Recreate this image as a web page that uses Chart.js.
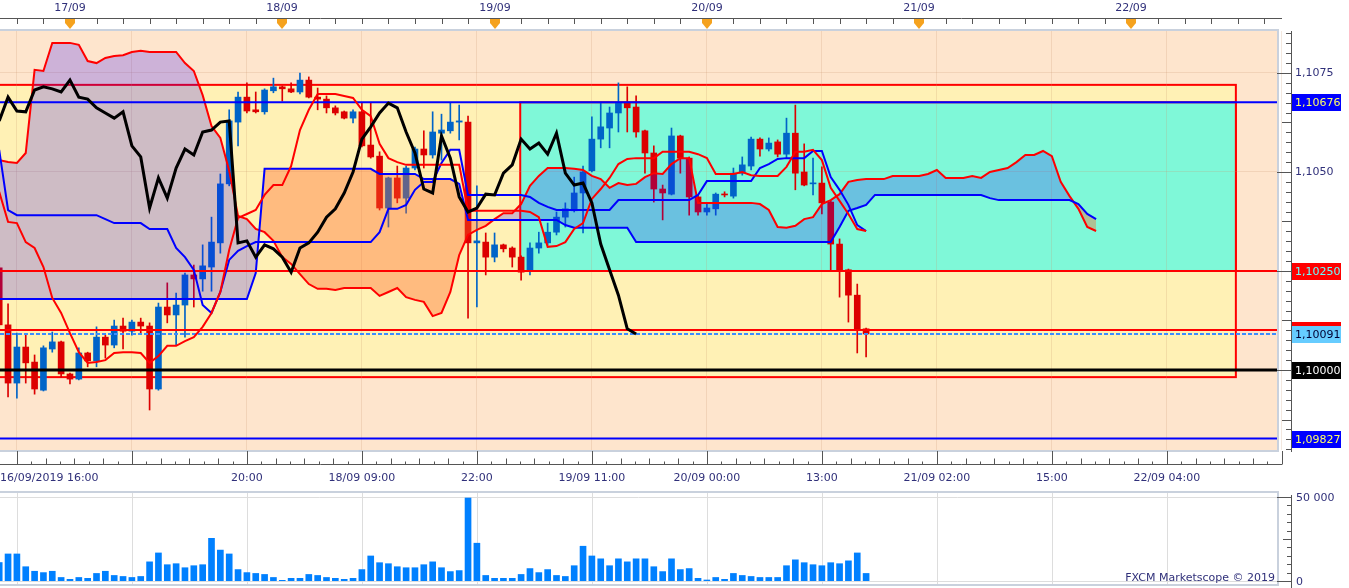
<!DOCTYPE html>
<html>
<head>
<meta charset="utf-8">
<script src="https://cdn.jsdelivr.net/npm/chart.js@4.4.0/dist/chart.umd.min.js"></script>
<style>
  html, body { margin: 0; padding: 0; background: #fff; }
  #wrap { position: relative; width: 1349px; height: 588px; overflow: hidden; }
  canvas { position: absolute; left: 0; }
  #main { top: 0; }
  #vol { top: 490px; }
</style>
</head>
<body>
<div id="wrap">
  <canvas id="main" width="1349" height="490"></canvas>
  <canvas id="vol" width="1349" height="98"></canvas>
</div>
<script>
// EUR/USD H1, bar 0 = 16/09/2019 16:00
const opens = [1.10258,1.10114,1.09967,1.10058,1.10020,1.09949,1.10053,1.10071,1.09990,1.09977,
  1.10043,1.10023,1.10083,1.10063,1.10111,1.10098,1.10121,1.10111,1.09952,1.10159,
  1.10139,1.10164,1.10240,1.10230,1.10260,1.10321,1.10470,1.10626,1.10689,1.10657,
  1.10652,1.10705,1.10715,1.10710,1.10702,1.10732,1.10689,1.10684,1.10662,1.10652,
  1.10636,1.10652,1.10568,1.10540,1.10409,1.10485,1.10434,1.10510,1.10558,1.10543,
  1.10598,1.10604,1.10626,1.10626,1.10321,1.10323,1.10285,1.10316,1.10308,1.10285,
  1.10253,1.10308,1.10321,1.10348,1.10386,1.10402,1.10447,1.10503,1.10583,1.10611,
  1.10649,1.10674,1.10664,1.10604,1.10548,1.10457,1.10444,1.10591,1.10535,1.10437,
  1.10399,1.10407,1.10444,1.10439,1.10497,1.10515,1.10583,1.10558,1.10576,1.10545,
  1.10598,1.10500,1.10470,1.10472,1.10424,1.10318,1.10253,1.10189,1.10104]
const highs = [1.10268,1.10167,1.10093,1.10088,1.10038,1.10061,1.10096,1.10073,1.09992,1.10056,
  1.10045,1.10109,1.10088,1.10126,1.10131,1.10126,1.10131,1.10119,1.10169,1.10220,
  1.10194,1.10245,1.10265,1.10316,1.10386,1.10495,1.10657,1.10702,1.10725,1.10702,
  1.10710,1.10737,1.10717,1.10725,1.10750,1.10740,1.10712,1.10692,1.10667,1.10654,
  1.10657,1.10674,1.10674,1.10551,1.10487,1.10515,1.10515,1.10563,1.10604,1.10652,
  1.10646,1.10674,1.10669,1.10641,1.10465,1.10346,1.10346,1.10318,1.10311,1.10288,
  1.10321,1.10348,1.10371,1.10399,1.10422,1.10487,1.10515,1.10639,1.10674,1.10664,
  1.10725,1.10715,1.10692,1.10606,1.10566,1.10467,1.10611,1.10593,1.10538,1.10442,
  1.10422,1.10447,1.10450,1.10510,1.10538,1.10588,1.10586,1.10586,1.10581,1.10636,
  1.10669,1.10571,1.10535,1.10513,1.10427,1.10331,1.10255,1.10217,1.10106]
const lows = [1.10101,1.09932,1.09929,1.09967,1.09939,1.09947,1.10045,1.09982,1.09965,1.09975,
  1.10008,1.10008,1.10030,1.10056,1.10053,1.10088,1.10091,1.09899,1.09949,1.10119,
  1.10063,1.10083,1.10159,1.10199,1.10199,1.10295,1.10465,1.10566,1.10649,1.10649,
  1.10646,1.10700,1.10679,1.10700,1.10697,1.10687,1.10657,1.10649,1.10644,1.10634,
  1.10624,1.10563,1.10535,1.10404,1.10361,1.10422,1.10396,1.10505,1.10510,1.10535,
  1.10530,1.10598,1.10581,1.10131,1.10159,1.10240,1.10273,1.10298,1.10260,1.10227,
  1.10240,1.10295,1.10316,1.10341,1.10361,1.10399,1.10346,1.10500,1.10561,1.10561,
  1.10601,1.10601,1.10588,1.10497,1.10424,1.10379,1.10442,1.10497,1.10391,1.10391,
  1.10391,1.10391,1.10437,1.10434,1.10492,1.10505,1.10540,1.10553,1.10538,1.10535,
  1.10455,1.10465,1.10442,1.10394,1.10253,1.10184,1.10121,1.10043,1.10033]
const closes = [1.10114,1.09967,1.10058,1.10018,1.09952,1.10056,1.10071,1.09990,1.09977,1.10043,
  1.10023,1.10083,1.10063,1.10111,1.10098,1.10121,1.10111,1.09952,1.10159,1.10139,
  1.10164,1.10240,1.10230,1.10263,1.10323,1.10470,1.10629,1.10689,1.10654,1.10652,
  1.10707,1.10715,1.10710,1.10702,1.10732,1.10689,1.10684,1.10662,1.10649,1.10636,
  1.10652,1.10566,1.10538,1.10409,1.10485,1.10434,1.10510,1.10558,1.10543,1.10601,
  1.10606,1.10626,1.10629,1.10321,1.10326,1.10285,1.10316,1.10306,1.10285,1.10247,
  1.10308,1.10321,1.10348,1.10386,1.10407,1.10447,1.10500,1.10583,1.10614,1.10649,
  1.10674,1.10662,1.10601,1.10548,1.10457,1.10447,1.10591,1.10535,1.10437,1.10399,
  1.10409,1.10444,1.10442,1.10497,1.10518,1.10583,1.10558,1.10573,1.10545,1.10598,
  1.10497,1.10467,1.10472,1.10422,1.10318,1.10253,1.10189,1.10104,1.10091]
const volumes = [11000,16100,16100,8500,5800,5000,5800,2100,1000,2100,
  1600,4500,5800,3300,2700,2100,2700,11400,16700,9700,
  10300,7900,9100,9700,25400,18400,16100,6800,5000,4500,
  3900,2100,400,1600,1600,3900,3300,2100,1600,1000,
  1600,6800,14900,10900,10300,8500,7900,7900,9700,11400,
  7900,5600,6200,49400,22500,3300,1600,1600,1600,3900,
  7400,5000,6800,3300,2700,9100,20700,14900,13200,9100,
  13200,11400,13200,13200,8500,5600,13200,6800,7400,1600,
  600,2100,1000,4500,3300,2700,2100,2100,2100,9100,
  12600,10900,9700,9100,10900,10300,12000,16700,4500]

const tenkan = [1.10450,1.10374,1.10371,1.10323,1.10308,1.10260,1.10182,1.10144,1.10093,1.10045,
  1.10018,1.10020,1.10025,1.10043,1.10045,1.10045,1.10043,1.10018,1.10035,1.10061,
  1.10061,1.10073,1.10083,1.10109,1.10144,1.10197,1.10303,1.10384,1.10394,1.10404,
  1.10442,1.10467,1.10467,1.10515,1.10606,1.10657,1.10697,1.10697,1.10697,1.10692,
  1.10687,1.10657,1.10641,1.10571,1.10535,1.10525,1.10518,1.10518,1.10518,1.10518,
  1.10518,1.10518,1.10518,1.10402,1.10402,1.10402,1.10402,1.10402,1.10402,1.10402,
  1.10399,1.10386,1.10311,1.10313,1.10323,1.10356,1.10371,1.10432,1.10457,1.10485,
  1.10520,1.10533,1.10535,1.10535,1.10535,1.10551,1.10551,1.10551,1.10551,1.10545,
  1.10535,1.10495,1.10495,1.10495,1.10500,1.10492,1.10490,1.10490,1.10490,1.10513,
  1.10551,1.10551,1.10556,1.10530,1.10460,1.10427,1.10394,1.10356,1.10351]
const kijun = [1.10556,1.10404,1.10391,1.10391,1.10391,1.10391,1.10391,1.10391,1.10391,1.10391,
  1.10391,1.10391,1.10381,1.10371,1.10371,1.10371,1.10371,1.10356,1.10356,1.10356,
  1.10308,1.10285,1.10253,1.10164,1.10144,1.10197,1.10278,1.10301,1.10313,1.10323,
  1.10323,1.10323,1.10323,1.10323,1.10323,1.10323,1.10323,1.10323,1.10323,1.10323,
  1.10323,1.10323,1.10323,1.10348,1.10407,1.10407,1.10417,1.10455,1.10475,1.10475,
  1.10523,1.10556,1.10556,1.10442,1.10442,1.10442,1.10442,1.10442,1.10442,1.10442,
  1.10437,1.10422,1.10412,1.10404,1.10404,1.10404,1.10404,1.10404,1.10404,1.10404,
  1.10429,1.10429,1.10429,1.10429,1.10429,1.10429,1.10429,1.10429,1.10429,1.10442,
  1.10477,1.10477,1.10477,1.10477,1.10477,1.10477,1.10510,1.10520,1.10533,1.10535,
  1.10535,1.10535,1.10553,1.10553,1.10487,1.10455,1.10417,1.10366,1.10351]
const senkouA = [1.10530,1.10525,1.10523,1.10548,1.10758,1.10755,1.10826,1.10826,1.10826,1.10821,
  1.10780,1.10775,1.10788,1.10793,1.10795,1.10803,1.10806,1.10803,1.10803,1.10803,
  1.10803,1.10775,1.10755,1.10694,1.10616,1.10586,1.10503,1.10389,1.10381,1.10356,
  1.10348,1.10326,1.10285,1.10268,1.10242,1.10217,1.10205,1.10205,1.10202,1.10207,
  1.10207,1.10207,1.10207,1.10187,1.10197,1.10207,1.10184,1.10177,1.10172,1.10136,
  1.10144,1.10197,1.10290,1.10341,1.10354,1.10364,1.10381,1.10396,1.10396,1.10419,
  1.10465,1.10490,1.10510,1.10510,1.10510,1.10508,1.10505,1.10490,1.10482,1.10460,
  1.10472,1.10467,1.10470,1.10487,1.10497,1.10495,1.10520,1.10535,1.10535,1.10422,
  1.10422,1.10422,1.10422,1.10422,1.10422,1.10422,1.10419,1.10404,1.10361,1.10359,
  1.10364,1.10381,1.10386,1.10419,1.10429,1.10444,1.10475,1.10480,1.10482,1.10482,
  1.10482,1.10490,1.10490,1.10490,1.10490,1.10495,1.10505,1.10485,1.10485,1.10485,
  1.10490,1.10485,1.10500,1.10505,1.10510,1.10525,1.10543,1.10543,1.10553,1.10540,
  1.10475,1.10439,1.10407,1.10361,1.10351]
const senkouB = [1.10179,1.10179,1.10179,1.10179,1.10179,1.10179,1.10179,1.10179,1.10179,1.10179,
  1.10179,1.10179,1.10179,1.10179,1.10179,1.10179,1.10179,1.10179,1.10179,1.10179,
  1.10179,1.10179,1.10179,1.10179,1.10179,1.10179,1.10179,1.10179,1.10179,1.10245,
  1.10508,1.10508,1.10508,1.10508,1.10508,1.10508,1.10508,1.10508,1.10508,1.10508,
  1.10508,1.10508,1.10508,1.10495,1.10495,1.10495,1.10495,1.10495,1.10482,1.10482,
  1.10482,1.10482,1.10470,1.10379,1.10379,1.10379,1.10379,1.10379,1.10379,1.10379,
  1.10379,1.10379,1.10379,1.10379,1.10366,1.10359,1.10359,1.10359,1.10359,1.10359,
  1.10359,1.10359,1.10323,1.10323,1.10323,1.10323,1.10323,1.10323,1.10323,1.10323,
  1.10323,1.10323,1.10323,1.10323,1.10323,1.10323,1.10323,1.10323,1.10323,1.10323,
  1.10323,1.10323,1.10323,1.10323,1.10323,1.10361,1.10402,1.10409,1.10417,1.10442,
  1.10442,1.10442,1.10442,1.10442,1.10442,1.10442,1.10442,1.10442,1.10442,1.10442,
  1.10442,1.10442,1.10434,1.10429,1.10429,1.10429,1.10429,1.10429,1.10429,1.10429,
  1.10429,1.10429,1.10419,1.10394,1.10381]
const chikou = [1.10629,1.10689,1.10654,1.10652,1.10707,1.10715,1.10710,1.10702,1.10732,1.10689,
  1.10684,1.10662,1.10649,1.10636,1.10652,1.10566,1.10538,1.10409,1.10485,1.10434,
  1.10510,1.10558,1.10543,1.10601,1.10606,1.10626,1.10629,1.10321,1.10326,1.10285,
  1.10316,1.10306,1.10285,1.10247,1.10308,1.10321,1.10348,1.10386,1.10407,1.10447,
  1.10500,1.10583,1.10614,1.10649,1.10674,1.10662,1.10601,1.10548,1.10457,1.10447,
  1.10591,1.10535,1.10437,1.10399,1.10409,1.10444,1.10442,1.10497,1.10518,1.10583,
  1.10558,1.10573,1.10545,1.10598,1.10497,1.10467,1.10472,1.10422,1.10318,1.10253,
  1.10189,1.10104,1.10091]

const levelPrices = [1.10676, 1.10250, 1.10101, 1.10091, 1.10000, 1.09827]
const zoneTop = [1.10720, 1.10676]
const zoneBottom = [1.09982, 1.10250]
const zoneFrom = [-2, 58.9]
const zoneTo = [139.8, 139.8]

const dayLabels = ['17/09', '18/09', '19/09', '20/09', '21/09', '22/09']
const dayBars = [8, 32, 56, 80, 104, 128]
const timeLabels = ['16/09/2019 16:00', '20:00', '18/09 09:00', '22:00', '19/09 11:00',
  '20/09 00:00', '13:00', '21/09 02:00', '15:00', '22/09 04:00']
const timeBars = [0, 28, 41, 54, 67, 80, 93, 106, 119, 132]
const majorBars = [2, 15, 28, 41, 54, 67, 80, 93, 106, 119, 132, 145]
const volumeLabels = ['0', '50 000']
const volumeLabelValues = [0, 50000]
const priceStep = 0.00025
const volumeStep = 5000

const xMin = 0.09, xMax = 144.45
const blue = '#0064C8', red = '#DC0000', ink = '#30307A'
const levelColors = ['#0000FF', '#FF0000', '#FF0000', '#3C8CFF', '#000000', '#0000FF']
const levelWidths = [2, 2, 2, 2, 3, 2]
const levelDash = [[], [], [], [4, 2], [], []]
const boxColors = ['#0000FF', '#FF0000', '#FF0000', '#66CCFF', '#000000', '#0000FF']
const boxText = ['#FFFF66', '#66FFFF', '#66FFFF', '#000033', '#FFFFFF', '#FFFF66']
const zoneFill = ['#FFF1B5', '#7FF8D8']

Chart.defaults.font.family = '"DejaVu Sans"'
Chart.defaults.font.size = 11

const candleColor = (i) => closes[i] >= opens[i] ? blue : red
const isMajor = (v) => Math.abs(v * 400 - Math.round(v * 400)) < 1e-6
const isHalf = (v) => Math.abs(v * 800 - Math.round(v * 800)) < 1e-6
const fmt = (v, d) => v.toFixed(d).replace('.', ',')
const pts = (arr) => arr.map((v, i) => ({ x: i, y: v }))

const line = (data, color, width, order, extra) => Object.assign({
  type: 'line', data, borderColor: color, borderWidth: width,
  pointRadius: 0, tension: 0, fill: false, order
}, extra || {})

const mainDecor = {
  id: 'mainDecor',
  beforeDraw(chart) {
    const { ctx, chartArea: a, scales: { x, y } } = chart
    ctx.save()
    ctx.fillStyle = '#FEE5CD'
    ctx.fillRect(a.left, a.top, a.right - a.left, a.bottom - a.top)
    ctx.beginPath()
    ctx.rect(a.left, a.top, a.right - a.left, a.bottom - a.top)
    ctx.clip()
    zoneTop.forEach((top, k) => {
      const x0 = x.getPixelForValue(zoneFrom[k])
      const x1 = x.getPixelForValue(zoneTo[k])
      const y0 = y.getPixelForValue(top)
      const y1 = y.getPixelForValue(zoneBottom[k])
      ctx.fillStyle = zoneFill[k]
      ctx.fillRect(x0, y0, x1 - x0, y1 - y0)
      ctx.strokeStyle = '#FF0000'
      ctx.lineWidth = 2
      ctx.strokeRect(x0, y0, x1 - x0, y1 - y0)
    })
    ctx.restore()
  },
  afterDraw(chart) {
    const { ctx, chartArea: a, scales: { x, y } } = chart
    ctx.save()

    // frame
    ctx.fillStyle = '#C9D1DD'
    ctx.fillRect(0, 29, a.right + 2, 2)
    ctx.fillRect(a.right, 29, 2, a.bottom - 27)
    ctx.fillRect(0, a.bottom, a.right + 2, 2)

    ctx.strokeStyle = '#555'
    ctx.lineWidth = 1

    // top date strip
    ctx.beginPath()
    ctx.moveTo(0, 18.5); ctx.lineTo(a.right + 5, 18.5)
    for (let b = 2; x.getPixelForValue(b) <= a.right; b += 3) {
      const px = Math.round(x.getPixelForValue(b)) + 0.5
      ctx.moveTo(px, 18); ctx.lineTo(px, 24)
    }
    ctx.stroke()
    ctx.font = '11px "DejaVu Sans"'
    ctx.textBaseline = 'middle'
    ctx.textAlign = 'center'
    dayBars.forEach((b, k) => {
      const px = Math.round(x.getPixelForValue(b))
      ctx.fillStyle = '#F5A21E'
      ctx.beginPath()
      ctx.moveTo(px - 5, 19); ctx.lineTo(px + 5, 19); ctx.lineTo(px + 5, 23)
      ctx.lineTo(px, 29); ctx.lineTo(px - 5, 23); ctx.closePath()
      ctx.fill()
      ctx.fillStyle = ink
      ctx.fillText(dayLabels[k], px, 8)
    })

    // right price axis
    ctx.beginPath()
    ctx.moveTo(1291.5, a.top); ctx.lineTo(1291.5, a.bottom + 2)
    y.ticks.forEach(t => {
      const py = Math.round(y.getPixelForValue(t.value)) + 0.5
      const len = isMajor(t.value) ? 14 : (isHalf(t.value) ? 9 : 5)
      ctx.moveTo(1291 - len, py); ctx.lineTo(1291, py)
    })
    ctx.stroke()

    // bottom time axis
    const base = 464.5
    ctx.beginPath()
    ctx.moveTo(0, base); ctx.lineTo(a.right + 5, base)
    majorBars.forEach(b => {
      const px = Math.round(x.getPixelForValue(b)) + 0.5
      if (px <= a.right + 6) { ctx.moveTo(px, a.bottom + 1); ctx.lineTo(px, base) }
      for (let m = 1; m < 8; m++) {
        const mx = Math.round(x.getPixelForValue(b + m * 13 / 8)) + 0.5
        if (mx > a.right) break
        const len = m % 2 ? 3 : 6
        ctx.moveTo(mx, base - len); ctx.lineTo(mx, base)
      }
    })
    ctx.stroke()
    ctx.fillStyle = ink
    timeBars.forEach((b, k) => {
      const px = x.getPixelForValue(b)
      const w = ctx.measureText(timeLabels[k]).width
      if (px - w / 2 < 0) {
        ctx.textAlign = 'left'
        ctx.fillText(timeLabels[k], 0, 478)
      } else {
        ctx.textAlign = 'center'
        ctx.fillText(timeLabels[k], px, 478)
      }
    })

    // level price boxes
    ctx.textAlign = 'left'
    levelPrices.forEach((p, k) => {
      const py = Math.round(y.getPixelForValue(p))
      ctx.fillStyle = boxColors[k]
      ctx.fillRect(1292, py - 8, 49, 17)
      ctx.fillStyle = boxText[k]
      ctx.fillText(fmt(p, 5), 1295, py + 1)
    })
    ctx.restore()
  }
}

new Chart('main', {
  type: 'bar',
  data: {
    datasets: [
      {
        type: 'bar', label: 'wick',
        data: highs.map((h, i) => ({ x: i, y: [lows[i], h] })),
        backgroundColor: ctx => candleColor(ctx.dataIndex),
        barThickness: 1, grouped: false, borderWidth: 0, order: 9
      },
      {
        type: 'bar', label: 'body',
        data: opens.map((o, i) => ({ x: i, y: [o, closes[i]] })),
        backgroundColor: ctx => candleColor(ctx.dataIndex),
        barThickness: 6, grouped: false, borderWidth: 0, minBarLength: 1, order: 8
      },
      line(pts(senkouA), '#FF0000', 2, 6, {
        label: 'Senkou A',
        fill: { target: 3, above: 'rgba(30,0,255,0.22)', below: 'rgba(255,100,40,0.38)' }
      }),
      line(pts(senkouB), '#0000FF', 2, 5, { label: 'Senkou B' }),
      ...levelPrices.map((p, k) => line([{ x: xMin, y: p }, { x: xMax, y: p }],
        levelColors[k], levelWidths[k], 4, { borderDash: levelDash[k] })),
      line(pts(kijun), '#0000FF', 2, 3, { label: 'Kijun' }),
      line(pts(tenkan), '#FF0000', 2, 2, { label: 'Tenkan' }),
      line(pts(chikou), '#000000', 3, 1, { label: 'Chikou' })
    ]
  },
  options: {
    animation: false,
    responsive: false,
    devicePixelRatio: 1,
    events: [],
    layout: { padding: { top: 31, left: 0, right: 0, bottom: 0 } },
    plugins: { legend: { display: false }, tooltip: { enabled: false } },
    scales: {
      x: {
        type: 'linear', min: xMin, max: xMax, offset: false,
        grid: { offset: false, drawTicks: false, color: 'rgba(200,150,110,0.22)' },
        border: { display: false },
        ticks: { display: false },
        afterBuildTicks: s => { s.ticks = majorBars.map(v => ({ value: v })) },
        afterFit: s => { s.height = 40 }
      },
      y: {
        position: 'right', min: 1.09798, max: 1.10856,
        afterBuildTicks: s => {
          const t = []
          for (let v = 1.098; v <= s.max; v += priceStep) t.push({ value: Math.round(v * 1e5) / 1e5 })
          s.ticks = t
        },
        ticks: {
          autoSkip: false, padding: 18, color: ink,
          callback: v => isMajor(v) ? fmt(v, 4) : ''
        },
        grid: {
          drawTicks: false,
          color: ctx => ctx.tick && isMajor(ctx.tick.value) ? 'rgba(200,150,110,0.22)' : 'rgba(0,0,0,0)'
        },
        border: { display: false },
        afterFit: s => { s.width = 72 }
      }
    }
  },
  plugins: [mainDecor]
})

const volDecor = {
  id: 'volDecor',
  beforeDatasetsDraw(chart) {
    const { ctx, chartArea: a, scales: { x, y } } = chart
    ctx.save()
    ctx.strokeStyle = '#DDDDDD'
    ctx.lineWidth = 1
    ctx.beginPath()
    majorBars.forEach(b => {
      const px = Math.round(x.getPixelForValue(b)) + 0.5
      if (px < a.right) { ctx.moveTo(px, 3); ctx.lineTo(px, 94) }
    })
    volumeLabelValues.forEach(v => {
      const py = Math.round(y.getPixelForValue(v)) + 0.5
      ctx.moveTo(0, py); ctx.lineTo(a.right, py)
    })
    ctx.stroke()
    ctx.restore()
  },
  afterDraw(chart) {
    const { ctx, chartArea: a, scales: { y } } = chart
    ctx.save()
    ctx.fillStyle = '#C9D1DD'
    ctx.fillRect(0, 1, a.right + 2, 2)
    ctx.fillRect(0, 94, a.right + 2, 2)
    ctx.fillRect(a.right, 1, 2, 95)
    ctx.strokeStyle = '#555'
    ctx.lineWidth = 1
    ctx.beginPath()
    ctx.moveTo(1291.5, 5); ctx.lineTo(1291.5, 98)
    for (let v = 0; v <= 50000; v += volumeStep) {
      const py = Math.round(y.getPixelForValue(v)) + 0.5
      const len = (v === 0 || v === 50000) ? 14 : (v === 25000 ? 8 : 4)
      ctx.moveTo(1291 - len, py); ctx.lineTo(1291, py)
    }
    ctx.stroke()
    ctx.font = '11px "DejaVu Sans"'
    ctx.fillStyle = ink
    ctx.textBaseline = 'middle'
    ctx.textAlign = 'left'
    volumeLabelValues.forEach((v, k) => {
      ctx.fillText(volumeLabels[k], 1296, Math.round(y.getPixelForValue(v)) + 1)
    })
    ctx.textAlign = 'right'
    ctx.fillText('FXCM Marketscope © 2019', 1275, 88)
    ctx.restore()
  }
}

new Chart('vol', {
  type: 'bar',
  data: {
    datasets: [{
      data: volumes.map((v, i) => ({ x: i, y: v })),
      backgroundColor: '#0080FF', barThickness: 6, borderWidth: 0
    }]
  },
  options: {
    animation: false,
    responsive: false,
    devicePixelRatio: 1,
    events: [],
    layout: { padding: { top: 7, left: 0, right: 72, bottom: 7 } },
    plugins: { legend: { display: false }, tooltip: { enabled: false } },
    scales: {
      x: { type: 'linear', min: xMin, max: xMax, offset: false, display: false },
      y: { min: 0, max: 50000, display: false }
    }
  },
  plugins: [volDecor]
})
</script>
</body>
</html>
